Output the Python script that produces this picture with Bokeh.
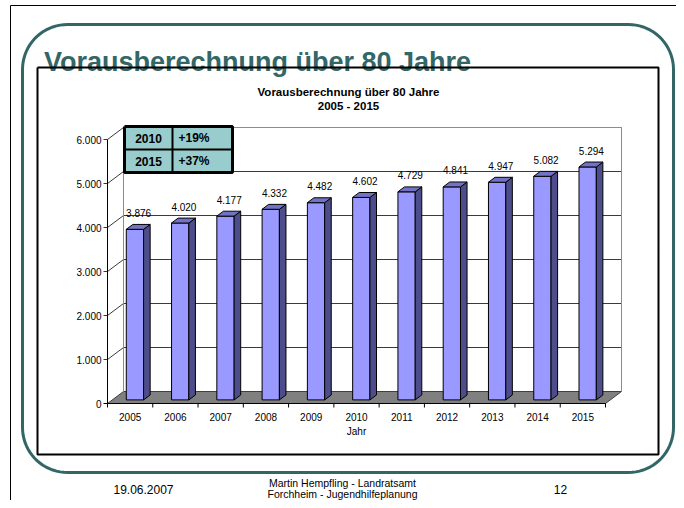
import numpy as np
from bokeh.plotting import figure
from bokeh.models import Range1d
from bokeh.core.properties import value
from bokeh.embed import file_html
from bokeh.resources import INLINE

# ---------------- data ----------------
years = ["2005", "2006", "2007", "2008", "2009", "2010", "2011", "2012", "2013", "2014", "2015"]
values = [3876, 4020, 4177, 4332, 4482, 4602, 4729, 4841, 4947, 5082, 5294]
y_ticks = [0, 1000, 2000, 3000, 4000, 5000, 6000]
y_tick_labels = ["0", "1.000", "2.000", "3.000", "4.000", "5.000", "6.000"]
table_years = ["2010", "2015"]
table_growth = ["+19%", "+37%"]
slide_title = "Vorausberechnung über 80 Jahre"
chart_title = ["Vorausberechnung über 80 Jahre", "2005 - 2015"]
x_title = "Jahr"
footer_date = "19.06.2007"
footer_author = ["Martin Hempfling - Landratsamt", "Forchheim - Jugendhilfeplanung"]
footer_page = "12"

# ---------------- layout (reference pixel coordinates) ----------------
TEAL = "#336666"
FONT = value("Liberation Sans")
W, H = 676, 500

p = figure(width=W, height=H, x_range=Range1d(0, W), y_range=Range1d(H, 0),
           output_backend="svg", toolbar_location=None, x_axis_type=None, y_axis_type=None,
           min_border=0, outline_line_color=None, background_fill_color="white")

# chart geometry
AX_X0, AX_X1, AX_Y0 = 107.0, 605.0, 403.0
n = len(years)
CW = (AX_X1 - AX_X0) / n          # px per category
K = 44.0 / 1000.0                 # px per value unit
p.extra_x_ranges = {"cat": Range1d((0 - AX_X0) / CW, (W - AX_X0) / CW)}
p.extra_y_ranges = {"val": Range1d((AX_Y0 - H) / K, (AX_Y0 - 0) / K)}
R = dict(x_range_name="cat", y_range_name="val")

DC = 16.0 / CW      # wall depth in category units
DV = 12.0 / K       # wall depth in value units
ymax = y_ticks[-1]

# ---------------- slide decoration ----------------
p.line([10, 682, 682, 10, 10], [5, 5, 510, 510, 5], line_color="black", line_width=1)


def rounded(x0, y0, x1, y1, r, m=20):
    t = np.linspace(0, np.pi / 2, m)
    xs = np.concatenate([x0 + r - r * np.cos(t), x1 - r + r * np.sin(t),
                         x1 - r + r * np.cos(t), x0 + r - r * np.sin(t), [x0]])
    ys = np.concatenate([y0 + r - r * np.sin(t), y0 + r - r * np.cos(t),
                         y1 - r + r * np.sin(t), y1 - r + r * np.cos(t), [y0 + r]])
    return xs, ys


fx, fy = rounded(22, 24, 673, 472, 45)
p.line(fx, fy, line_color=TEAL, line_width=3)

p.text(x=[257], y=[61], text=[slide_title], text_font=FONT, text_font_style="bold",
       text_font_size="27px", text_color=TEAL, text_align="center", text_baseline="alphabetic")

# chart box
p.line([37, 658, 658, 37, 37], [67, 67, 454, 454, 67], line_color="black", line_width=2)
p.text(x=[348, 348], y=[91, 105], text=chart_title, text_font=FONT, text_font_style="bold",
       text_font_size="11.5px", text_color="black", text_align="center", text_baseline="middle")

# footer
p.text(x=[143], y=[489], text=[footer_date], text_font=FONT, text_font_size="12px",
       text_color="black", text_align="center", text_baseline="middle")
p.text(x=[342, 342], y=[482.5, 493.5], text=footer_author, text_font=FONT, text_font_size="10.5px",
       text_color="black", text_align="center", text_baseline="middle")
p.text(x=[560], y=[489], text=[footer_page], text_font=FONT, text_font_size="12px",
       text_color="black", text_align="center", text_baseline="middle")

# ---------------- 3D chart ----------------
# floor
p.patch([0, n, n + DC, DC], [0, 0, DV, DV], fill_color="#808080", line_color="#404040",
        line_width=1, **R)

# gridlines: tick, side-wall diagonal, back-wall horizontal
gx, gy = [], []
for v in y_ticks[1:]:
    gx.append([-4 / CW, 0, DC, n + DC])
    gy.append([v, v, v + DV, v + DV])
p.multi_line(gx, gy, line_color="#3a3a3a", line_width=1, **R)
p.line([-4 / CW, 0], [0, 0], line_color="black", line_width=1, **R)

# wall edges
p.multi_line([[DC, DC], [n + DC, n + DC], [DC, n + DC]],
             [[DV, ymax + DV], [DV, ymax + DV], [ymax + DV, ymax + DV]],
             line_color="#8c8c8c", line_width=1, **R)

# axes
p.line([0, 0], [0, ymax], line_color="black", line_width=1, **R)
p.line([0, n], [0, 0], line_color="black", line_width=1, **R)
p.multi_line([[c, c] for c in range(n + 1)], [[0, -4 / K] for _ in range(n + 1)],
             line_color="black", line_width=1, **R)

# bars
vals = np.array(values, dtype=float)
FF, BD, BW = 0.30, 0.41, 17.3 / CW
cx = np.arange(n) + 0.5 + FF * DC
bot = FF * DV
top = vals + FF * DV
xl, xr = cx - BW / 2, cx + BW / 2
p.vbar(x=cx, width=BW, bottom=bot, top=top, fill_color="#9999FF", line_color="black",
       line_width=1, **R)
side_x = [[a, a + BD * DC, a + BD * DC, a] for a in xr]
side_y = [[bot, bot + BD * DV, t + BD * DV, t] for t in top]
p.patches(side_x, side_y, fill_color="#4D4D8C", line_color="black", line_width=1, **R)
top_x = [[a, b, b + BD * DC, a + BD * DC] for a, b in zip(xl, xr)]
top_y = [[t, t, t + BD * DV, t + BD * DV] for t in top]
p.patches(top_x, top_y, fill_color="#7373C6", line_color="black", line_width=1, **R)

# data labels
lbls = [f"{v:,}".replace(",", ".") for v in values]
p.text(x=np.arange(n) + 0.5, y=vals, text=lbls, x_offset=8.5, y_offset=-20,
       text_font=FONT, text_font_size="10px", text_color="black",
       text_align="center", text_baseline="middle", **R)

# axis tick labels
p.text(x=[0] * len(y_ticks), y=y_ticks, text=y_tick_labels, x_offset=-6,
       text_font=FONT, text_font_size="10px", text_color="black",
       text_align="right", text_baseline="middle", **R)
p.text(x=np.arange(n) + 0.5, y=[0] * n, text=years, y_offset=13.5,
       text_font=FONT, text_font_size="10px", text_color="black",
       text_align="center", text_baseline="middle", **R)
p.text(x=[n / 2], y=[0], text=[x_title], y_offset=28,
       text_font=FONT, text_font_size="10px", text_color="black",
       text_align="center", text_baseline="middle", **R)

# growth table
TX0, TX1, TXM, TY0, TY1, TYM = 124, 232, 172, 126, 172, 149
p.quad(left=[TX0], right=[TX1], top=[TY0], bottom=[TY1], fill_color="#99CCCC", line_color=None)
p.multi_line([[TXM, TXM], [TX0, TX1]], [[TY0, TY1], [TYM, TYM]], line_color="black", line_width=2)
p.line([TX0, TX1, TX1, TX0, TX0], [TY0, TY0, TY1, TY1, TY0], line_color="black", line_width=3)
rows_y = [(TY0 + TYM) / 2, (TYM + TY1) / 2]
p.text(x=[(TX0 + TXM) / 2] * 2, y=rows_y, text=table_years, text_font=FONT,
       text_font_style="bold", text_font_size="12px", text_color="black",
       text_align="center", text_baseline="middle")
p.text(x=[TXM + 6] * 2, y=rows_y, text=table_growth, text_font=FONT,
       text_font_style="bold", text_font_size="12px", text_color="black",
       text_align="left", text_baseline="middle")

open("out.html", "w").write(file_html(p, INLINE))
